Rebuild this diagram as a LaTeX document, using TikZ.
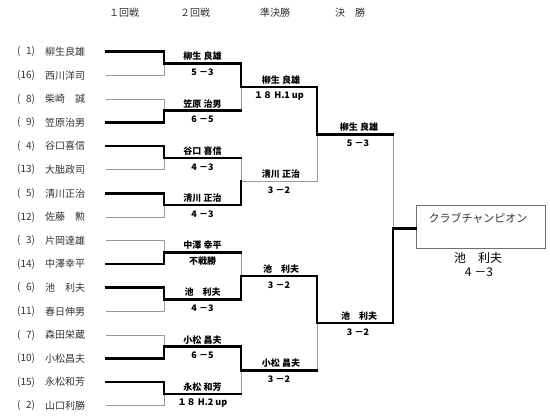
\documentclass[tikz,border=0pt]{standalone}
\usepackage{fontspec}
\usepackage{xcolor}
\usepackage{tikz}
\usetikzlibrary{positioning, calc}
\setmainfont{Noto Sans CJK JP}
\definecolor{LineGray}{HTML}{9A9A9A}
\definecolor{NameInk}{HTML}{333333}
\definecolor{BoxGray}{HTML}{6E6E6E}

\begin{document}
\begin{tikzpicture}[x=1pt,y=-1pt,
  win/.style={line width=2.6pt, line cap=rect},
  lose/.style={line width=0.8pt, draw=LineGray},
  entry/.style={anchor=west, inner sep=0pt, text=NameInk, font=\fontsize{10}{12}\selectfont},
  round/.style={inner sep=0pt, text=NameInk, font=\fontsize{10}{12}\selectfont},
  winner/.style={inner sep=0pt, font=\bfseries\fontsize{9}{11}\selectfont}]
  \useasboundingbox (0,0) rectangle (550,418);
  % round titles
  \node[round] (t1) at (124,13) {１回戦};
  \node[round] (t2) at (195,13) {２回戦};
  \node[round] (t3) at (275,13) {準決勝};
  \node[round] (t4) at (350,13) {決　勝};
  % entries
  \foreach \n/\name [count=\i from 0] in {1/柳生良雄, 16/西川洋司, 8/柴崎　誠, 9/笠原治男, 4/谷口喜信, 13/大朏政司,
      5/清川正治, 12/佐藤　勲, 3/片岡達雄, 14/中澤幸平, 6/池　利夫, 11/春日伸男, 7/森田栄蔵, 10/小松昌夫, 15/永松和芳, 2/山口利勝}{
    \node[entry] (no\i) at (17,{51.7+23.6*\i}) {(\ifnum\n<10 \phantom{1}\fi\n)};
    \node[entry] (pl\i) at (45,{51.7+23.6*\i}) {\name};
    \coordinate (e\i) at (106,{51.7+23.6*\i});}
  % joints of the bracket
  \foreach \k in {0,...,7}{
    \coordinate (a\k) at (164,{63.5+47.2*\k});
    \coordinate (b\k) at (241,{63.5+47.2*\k});}
  \foreach \k in {0,...,3}{
    \coordinate (c\k) at (241,{87.1+94.4*\k});
    \coordinate (d\k) at (317,{87.1+94.4*\k});}
  \foreach \k in {0,1}{
    \coordinate (f\k) at (317,{134.3+188.8*\k});
    \coordinate (g\k) at (393,{134.3+188.8*\k});}
  \coordinate (h) at (393,228.7);
  % champion box
  \node[draw=BoxGray, line width=0.7pt, minimum width=129pt, minimum height=43pt, anchor=north west] (champ) at (416,205) {};
  \node[inner sep=0pt, text=NameInk, font=\fontsize{11}{13}\selectfont] (ctitle) at (478,218) {クラブチャンピオン};
  \node[inner sep=0pt, font=\fontsize{12}{14}\selectfont] (cname) at (478,258) {池　利夫};
  \node[inner sep=0pt, font=\fontsize{12}{14}\selectfont] (cscore) at (479,272) {4 －3};
  % thin lines: losers
  \foreach \i in {1,2,5,7,8,11,12,15}{
    \pgfmathtruncatemacro\k{\i/2}
    \draw[lose] (e\i) -| (a\k);}
  \foreach \k/\m in {1/0,2/1,4/2,7/3} \draw[lose] (b\k) -- (c\m);
  \draw[lose] (c1) -- (d1);
  \draw[lose] (d1) -- (f0);
  \draw[lose] (d3) -- (f1);
  \draw[lose] (g0) -- (h);
  % thick lines: winners
  \foreach \i in {0,3,4,6,9,10,13,14}{
    \pgfmathtruncatemacro\k{\i/2}
    \draw[win] (e\i) -| (a\k);}
  \foreach \k in {0,...,7} \draw[win] (a\k) -- (b\k);
  \foreach \k/\m in {0/0,3/1,5/2,6/3} \draw[win] (b\k) -- (c\m);
  \foreach \k in {0,2,3} \draw[win] (c\k) -- (d\k);
  \draw[win] (d0) -- (f0);
  \draw[win] (d2) -- (f1);
  \foreach \k in {0,1} \draw[win] (f\k) -- (g\k);
  \draw[win] (g1) -- (h) -- (h -| champ.west);
  % results
  \foreach \k/\who/\res in {0/柳生 良雄/5 －3, 1/笠原 治男/6 －5, 2/谷口 喜信/4 －3, 3/清川 正治/4 －3,
      4/中澤 幸平/不戦勝, 5/池　利夫/4 －3, 6/小松 昌夫/6 －5, 7/永松 和芳/１８ H.2 up}{
    \node[winner, yshift=7pt] (w\k) at ($(a\k)!0.5!(b\k)$) {\who};
    \node[winner, yshift=-9pt] (s\k) at ($(a\k)!0.5!(b\k)$) {\res};}
  \foreach \k/\who/\res in {0/柳生 良雄/１８ H.1 up, 1/清川 正治/3 －2, 2/池　利夫/3 －2, 3/小松 昌夫/3 －2}{
    \node[winner, yshift=7pt] (sw\k) at ($(c\k)!0.5!(d\k)+(2,0)$) {\who};
    \node[winner, yshift=-9pt] (ss\k) at ($(c\k)!0.5!(d\k)$) {\res};}
  \foreach \k/\who/\res in {0/柳生 良雄/5 －3, 1/池　利夫/3 －2}{
    \node[winner, yshift=7pt] (fw\k) at ($(f\k)!0.5!(g\k)+(4,0)$) {\who};
    \node[winner, yshift=-9pt] (fs\k) at ($(f\k)!0.5!(g\k)+(3,0)$) {\res};}
\end{tikzpicture}
\end{document}
